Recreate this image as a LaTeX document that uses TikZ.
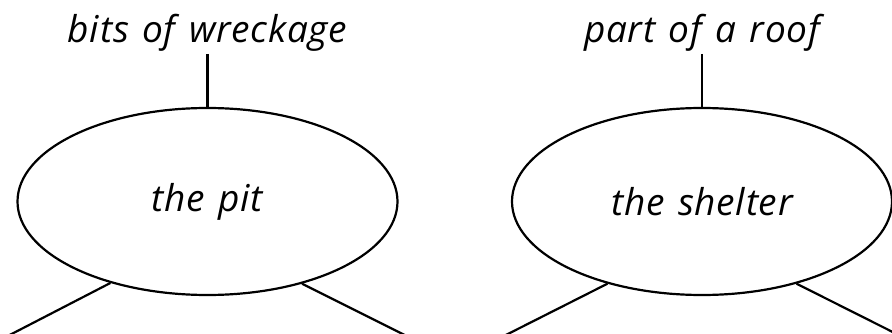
\documentclass[tikz,border=0pt]{standalone}
\usepackage{fontspec}
\setmainfont{Open Sans}[WordSpace=1.3, LetterSpace=2]
\usetikzlibrary{shapes.geometric, positioning}
\tikzset{
  topic/.style={ellipse, draw, line width=2.2pt, minimum width=380pt,
                minimum height=187pt, inner sep=0pt,
                font=\itshape\fontsize{37}{40}\selectfont},
  fact/.style={inner sep=2pt, font=\itshape\fontsize{37}{40}\selectfont},
  link/.style={line width=2.2pt},
}
\begin{document}
\begin{tikzpicture}[x=1pt, y=-1pt]
  \useasboundingbox (0,0) rectangle (892,334);
  \fill[white] (0,0) rectangle (892,334);
  % the two topics
  \node[topic] (pit) at (207.5,201.5) {the pit};
  \node[topic] (shelter) at (702,201.5) {the shelter};
  % facts on top
  \node[fact, anchor=south] (wreck) at (207.5,54) {bits of wreckage};
  \node[fact, anchor=south] (roof) at (702,54) {part of a roof};
  \draw[link] (wreck.south) -- (pit.north);
  \draw[link] (roof.south) -- (shelter.north);
  % legs running off the page
  \coordinate (pitL) at (0,340);
  \coordinate (pitR) at (414.6,340);
  \coordinate (shelterL) at (496,340);
  \coordinate (shelterR) at (908.6,340);
  \draw[link] (pit.220.5) -- (pitL);
  \draw[link] (pit.319.3) -- (pitR);
  \draw[link] (shelter.221) -- (shelterL);
  \draw[link] (shelter.319.5) -- (shelterR);
\end{tikzpicture}
\end{document}
